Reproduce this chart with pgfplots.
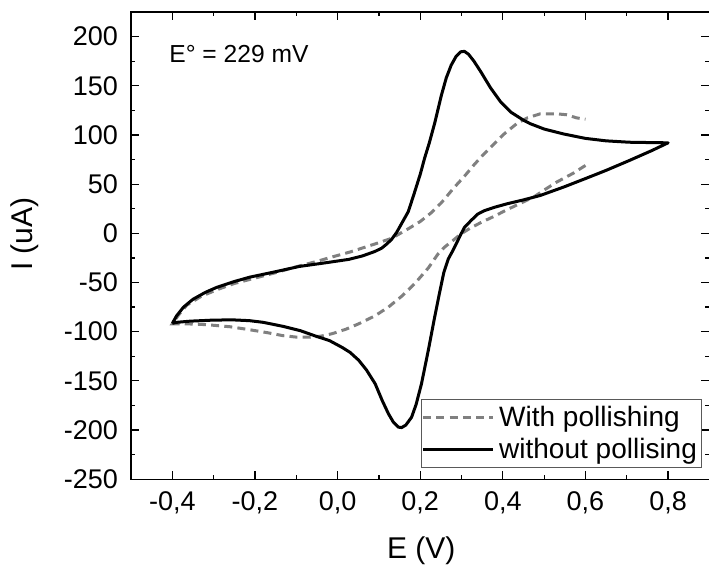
\documentclass[border=0pt]{standalone}
\usepackage{fontspec}
\setmainfont{Liberation Sans}
\usepackage{pgfplots}
\pgfplotsset{compat=1.18}

\definecolor{dashgray}{RGB}{128,128,128}

% with pollishing: sweep back from 0.6 V to -0.4 V, then forward to 0.6 V
\pgfplotstableread{
E I
0.600 69
0.570 61
0.530 52
0.500 44
0.475 37
0.450 32
0.410 24
0.380 17.5
0.347 11
0.320 5
0.299 -0.5
0.280 -7
0.259 -14
0.243 -21
0.220 -35
0.187 -51
0.155 -64
0.123 -75
0.090 -84
0.051 -92
0.020 -97.5
-0.013 -102
-0.040 -104.5
-0.069 -105.6
-0.100 -105.5
-0.133 -104
-0.170 -101
-0.213 -98
-0.260 -95
-0.300 -93.5
-0.333 -92.5
-0.370 -92
-0.400 -92
-0.385 -83
-0.365 -73
-0.330 -64
-0.290 -57
-0.250 -51
-0.200 -45.5
-0.150 -40
-0.100 -34
-0.050 -28.5
-0.013 -24
0.030 -19
0.067 -14
0.100 -9.5
0.131 -5
0.171 4.6
0.200 12
0.227 21
0.251 31
0.283 47
0.307 58
0.331 70
0.355 81
0.379 91
0.403 101
0.435 112
0.460 117.5
0.490 121.4
0.530 121.5
0.555 120.5
0.578 117.4
0.600 116
}\withpol

% without pollising: closed loop -0.4 V -> 0.8 V -> -0.4 V
\pgfplotstableread{
E I
-0.400 -91.5
-0.390 -84
-0.373 -75
-0.350 -67
-0.320 -60
-0.293 -55
-0.250 -49
-0.213 -44.6
-0.150 -39
-0.093 -33.7
-0.030 -30
0.027 -26.5
0.060 -23
0.090 -18.5
0.107 -15
0.120 -10.5
0.131 -6
0.143 1
0.155 10
0.171 22
0.185 40
0.200 60
0.211 77
0.222 92
0.235 112
0.251 140
0.263 158
0.275 171
0.287 180
0.298 184.5
0.307 185
0.317 182
0.330 175
0.347 164
0.370 148
0.394 134
0.420 123
0.450 115
0.466 111.5
0.500 106
0.547 101
0.600 96.5
0.650 94
0.706 92.6
0.750 92.3
0.800 92
0.760 84
0.706 74
0.650 64
0.602 56
0.547 47
0.490 38.4
0.450 34
0.410 30
0.380 26.5
0.355 23
0.339 19.5
0.323 13
0.307 6
0.299 -0.5
0.289 -9
0.279 -17.5
0.268 -26
0.257 -40
0.247 -60
0.235 -85
0.220 -118
0.203 -153
0.190 -174
0.179 -187
0.165 -195
0.155 -197.5
0.147 -197
0.135 -192
0.123 -183.4
0.108 -170
0.091 -153
0.070 -139
0.051 -129
0.030 -121
0.011 -116
-0.020 -109
-0.053 -104.5
-0.090 -99
-0.133 -94.5
-0.180 -90.5
-0.213 -88.8
-0.253 -88
-0.300 -88.2
-0.357 -89.3
-0.390 -90.5
-0.400 -91.5
}\withoutpol

\begin{document}
\begin{tikzpicture}
\begin{axis}[
  scale only axis,
  width=289pt, height=233.5pt,
  xmin=-0.5, xmax=0.9,
  ymin=-250, ymax=225,
  xtick={-0.4,-0.2,0,0.2,0.4,0.6,0.8},
  ytick={-250,-200,...,200},
  minor x tick num=1,
  minor y tick num=1,
  tick align=inside,
  major tick length=4pt,
  minor tick length=2pt,
  axis line style={line width=0.6pt},
  every tick/.style={black, line width=0.6pt},
  /pgf/number format/assume math mode=true,
  ticklabel style={font=\fontsize{13.5}{16}\selectfont},
  xticklabel style={anchor=base, inner sep=0pt, yshift=-15.85pt,
    /pgf/number format/.cd, fixed, fixed zerofill, precision=1, use comma},
  yticklabel style={anchor=east, inner sep=0pt, xshift=-6.35pt},
  scaled x ticks=false,
  xlabel={E (V)},
  ylabel={I (uA)},
  label style={font=\fontsize{15}{18}\selectfont},
  xlabel style={at={(axis description cs:0.5017,-0.1692)}, anchor=base},
  ylabel style={at={(axis description cs:-0.1696,0.5246)}, anchor=base},
  legend style={
    at={(axis description cs:0.988,0.0236)}, anchor=south east,
    draw=black!65, line width=0.5pt,
    inner xsep=0.3pt, inner ysep=1pt,
    font=\fontsize{14}{16}\selectfont,
    nodes={inner xsep=2.2pt, inner ysep=2.2pt},
    row sep=0pt,
  },
  legend cell align=left,
  legend image code/.code={\draw[#1] (0pt,0pt) -- (35pt,0pt);},
]
\addplot[dashgray, line width=1.5pt, dash pattern=on 4pt off 2.6pt] table[x=E, y=I] {\withpol};
\addlegendentry{With pollishing}
\addplot[black, line width=1.5pt, line join=round] table[x=E, y=I] {\withoutpol};
\addlegendentry{without pollising}
\node[anchor=base west, font=\fontsize{12.3}{14}\selectfont]
  at (axis description cs:0.054,0.891) {E° = 229 mV};
\end{axis}
\pgfresetboundingbox
\path ([xshift=-65.5pt,yshift=-43pt]current axis.south west)
  rectangle ([xshift=-0.2pt,yshift=6pt]current axis.north east);
\end{tikzpicture}
\end{document}
